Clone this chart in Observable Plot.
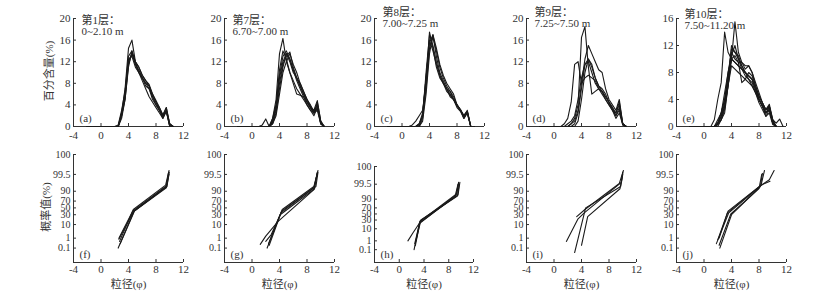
<!DOCTYPE html>
<html><head><meta charset="utf-8">
<script src="https://cdn.jsdelivr.net/npm/d3@7"></script>
<script src="https://cdn.jsdelivr.net/npm/@observablehq/plot@0.6"></script>
<style>
body{margin:0;background:#fff;}
#chart{position:relative;width:834px;height:295px;overflow:hidden;background:#fff;}
#chart svg{position:absolute;}
#chart svg, #chart svg text{font-family:'Liberation Serif','Noto Sans CJK SC',serif !important;}
.ytitle{position:absolute;width:100px;height:14px;line-height:14px;text-align:center;white-space:nowrap;
  font:11px 'Liberation Serif','Noto Sans CJK SC',serif;color:#333;transform:rotate(-90deg);transform-origin:50% 50%;}
</style></head><body><div id="chart"></div>
<script>
// ---------- data ----------
const phiGrid = [-2,1,1.5,2,2.5,3,3.5,4,4.5,5,5.5,6,6.5,7,7.5,8,8.5,9,9.5,10,10.5,11,11.5];
const xTicks = [-4,0,4,8,12];
const topTitles = ["第1层：\n0~2.10 m","第7层：\n6.70~7.00 m","第8层：\n7.00~7.25 m","第9层：\n7.25~7.50 m","第10层：\n7.50~11.20 m"];
const topLetters = ["(a)","(b)","(c)","(d)","(e)"];
const botLetters = ["(f)","(g)","(h)","(i)","(j)"];
const yTitles = ["百分含量(%)","概率值(%)"];
const xTitle = "粒径(φ)";
const topYMax = [20,20,20,20,16];

const seriesA = [
 [0,0,0,0,0,2.5,7,14.5,16,12,10,8.5,7,5.5,4.5,3.5,2.5,1.5,2.8,0,0],
 [0,0,0,0,0,2,5.5,12,13.5,11.5,10.5,9,8,7.5,5.5,4.5,3.5,2,3.5,0.3,0],
 [0,0,0,0,0,1.5,5,11,14,12,11,9.5,8.5,7.5,6,4.5,3,2,3,0.5,0],
 [0,0,0,0,0,2.5,6,12.5,13,11,10,9,8,7,5.5,4,3,1.5,3,0,0],
 [0,0,0,0,0,2,5,11.5,13.5,12,11,9.5,8.5,7.8,6,4.8,3.5,2.2,3.5,0.5,0],
 [0,0,0,0,0.3,3,6.5,13,14,11.5,10,9,7.5,7,5,4,3,1.8,2.8,0,0]
];
const seriesB = [
 [0,0,0,0,0,1.5,5,13.5,16.3,12,10,8.5,7,6,5,4,3,2.5,3.5,0.8,0],
 [0,0,0.3,1.4,0,1.5,4,9,12,13.5,12,10,9,7.5,6,4.5,3.5,2.5,4.5,1,0],
 [0,0,0,0,0,1,3,8,11.5,13,13.8,11,9,8,6.5,5,4,2.8,4,0.5,0],
 [0,0,0,0,0,0.5,2.5,7,11,13.5,12.5,10.5,8.5,7,5.5,4,3,2,3.5,0.5,0],
 [0,0,0,0,0,1,4,10.5,14,12.5,10,8,6,5.8,5.5,4.5,3.5,2.5,4,0.6,0],
 [0,0,0,0,0,0.8,3.5,9.5,13,14,12.5,10.5,9,7.5,6,5,3.5,3,4.8,1,0],
 [0,0,0,0,0,0.5,2,6,10,12,13.5,11.5,10,8,6.5,5,3.8,2.5,3,0.5,0]
];
const seriesC = [
 [0,0,0.3,1,2,3,8,17.5,14.5,11,9,8,7,6,5,4,3,2,2.8,0,0],
 [0,0,0,0,0.5,2,9,15.5,17,13,10,8.5,7,5.5,5,3.8,3,1.5,2.5,0,0],
 [0,0,0,0,0,1.5,7,14.5,16.5,14,11,9,7.5,6.5,5.5,4,3,2,2.8,0,0],
 [0,0,0,0,0.3,2,10,17,15,12,9.5,8,7,6.5,5,4,3,1.8,2.5,0,0],
 [0,0,0,0,0,1,6,13.5,17,14.5,11.5,9.5,8,7,6,4,3.2,2,3,0,0],
 [0,0,0,0,0.5,2.5,9,16,14,11.5,9.5,8,6.5,5.8,5,3.5,2.8,1.5,2.6,0,0]
];
const seriesD = [
 [0,0,0,0,0.5,1.5,4,16.5,18.5,11,6,6.5,7,6.5,5.5,4.5,3,2,3,0.5,0],
 [0,0,0.5,1.5,4.5,11.5,12,8,9,9.5,9,8.5,7,6.5,5,4,3,1.5,2.5,0.3,0],
 [0,0,0,0,0.5,1,3,8,12.5,15,13.5,12,10.5,10,7,5,4,3,5,0.5,0],
 [0,0,0,0,0,0.5,2.5,7,11.5,12.5,11,9,7.5,7,6,4.5,3.5,2,3.5,0.3,0],
 [0,0,0,0.5,1,2,5,9,11.5,12,10,8,7,6,5,4,3,2.5,4,0.5,0],
 [0,0,0,0,0,0,1,5,10,12.5,11.5,9,7.5,6.5,5.5,4.5,3.5,2.5,4.5,0.5,0]
];
const seriesE = [
 [0,0,1,4,6.5,14,11,10,9.5,9,8.5,8,7.5,7,5.5,4,3,2,3,0.5,0],
 [0,0,0,1,2,4,8,10,15.5,11,9.5,8.5,9,8,6,4.5,3.5,2.5,3.3,1,0],
 [0,0,0,0.5,2,4,7,11.5,11,10,9,8,7.5,7,5.5,4,3,1.5,2.5,0.5,0],
 [0,0,0,0.5,1.5,3,6,10,10.5,9.5,6.5,7,8,7.5,6,4.5,3.5,2.5,3,1,0.5,1.1,0],
 [0,0,0,0.3,1.5,3.5,7,10,9.5,9,8.5,8,7,6,5,4,3,2,2.8,0.5,0],
 [0,0,0,0.5,2,5,8,11,10,9.5,9.5,9,9,8,6.5,5,3.5,2,2.5,0.8,0],
 [0,0,0,0.3,1,2.5,6,9,8.5,8,7.5,7,6.5,6,5,4,3,2,2.5,0.5,0],
 [0,0,0,0.5,1,3,7,12,11,10.5,9,8,7.5,7,5.5,4.5,3.5,2.5,3,0.8,0],
 [0,0,0,0,1,2,6,10.5,12,10,8.5,7.5,7,6.5,5,3.5,2.5,1.5,2,0.3,0]
];
const topSeries = [seriesA, seriesB, seriesC, seriesD, seriesE];

// probability (cumulative) curves: [phi, cumulative %]
const probTicks = [0.1,1,10,30,50,70,90,99.5,100];
const probLabels = ["0.1","1","10","30","50","70","90","99.5","100"];
const linesF = [
 [[2.5,0.1],[4.8,40],[9.5,95],[9.9,99.7]],
 [[2.7,0.5],[4.7,45],[9.4,96],[9.9,99.8]],
 [[2.6,1],[4.6,40],[9.5,95.5],[9.8,99.6]],
 [[2.8,0.3],[4.9,42],[9.6,95],[9.9,99.7]],
 [[2.6,0.8],[4.7,38],[9.5,94],[9.9,99.5]]
];
const linesG = [
 [[1.2,0.25],[2.0,1.5],[3.8,15],[9.0,92],[9.5,99.6]],
 [[2.2,0.1],[4.2,35],[8.8,93],[9.3,95],[9.6,99.7]],
 [[2.4,0.3],[4.3,40],[9.0,94],[9.5,99.6]],
 [[2.0,0.5],[2.8,2],[4.1,30],[9.1,93],[9.5,99.7]],
 [[2.5,0.2],[4.4,45],[9.0,95],[9.6,99.8]]
];
const linesH = [
 [[1.4,1],[2.2,5],[3.2,20],[9.2,95],[9.6,99.7]],
 [[2.4,0.1],[3.3,25],[9.3,96],[9.6,99.6]],
 [[2.6,0.3],[3.4,28],[9.4,94],[9.7,99.5]],
 [[2.5,0.5],[3.3,22],[9.0,93],[9.5,99.5]],
 [[2.7,1],[3.5,30],[9.5,95],[9.8,99.7]]
];
const linesI = [
 [[1.8,0.5],[3.5,20],[4.4,35],[9.8,97.5],[10.0,99.7]],
 [[3.0,0.03],[4.6,50],[9.7,95],[10.0,99.5]],
 [[4.0,0.2],[4.9,25],[9.6,93],[10.0,99.6]],
 [[3.3,25],[4.5,45],[9.5,97],[10.1,99.8]]
];
const linesJ = [
 [[2.0,0.7],[3.5,40],[8.3,96],[8.8,99.8]],
 [[2.3,0.1],[4.0,30],[8.2,95],[8.5,99.6]],
 [[1.8,0.3],[3.6,35],[8.5,96.5],[9.5,98.5],[10.2,99.8]],
 [[2.2,0.2],[3.9,32],[8.0,93],[8.4,99.5]],
 [[2.2,1],[3.4,35],[8.3,96],[9.6,98]]
];
const botLines = [linesF, linesG, linesH, linesI, linesJ];

// ---------- layout ----------
const panelLeft = [73,224,374,525.5,675.5];
const botFrameW = [110,110,99,110,110];
const botFrameTop = [14,14,26,14,14];
const titleDy = [-3,-3,-11,-11,-9];

function probit(p){
  const a=[-3.969683028665376e+01,2.209460984245205e+02,-2.759285104469687e+02,1.383577518672690e+02,-3.066479806614716e+01,2.506628277459239e+00];
  const b=[-5.447609879822406e+01,1.615858368580409e+02,-1.556989798598866e+02,6.680131188771972e+01,-1.328068155288572e+01];
  const c=[-7.784894002430293e-03,-3.223964580411365e-01,-2.400758277161838e+00,-2.549732539343734e+00,4.374664141464968e+00,2.938163982698783e+00];
  const d=[7.784695709041462e-03,3.224671290700398e-01,2.445134137142996e+00,3.754408661907416e+00];
  const pl=0.02425; let q,r;
  if(p<pl){q=Math.sqrt(-2*Math.log(p));return (((((c[0]*q+c[1])*q+c[2])*q+c[3])*q+c[4])*q+c[5])/((((d[0]*q+d[1])*q+d[2])*q+d[3])*q+1);}
  if(p<=1-pl){q=p-0.5;r=q*q;return (((((a[0]*r+a[1])*r+a[2])*r+a[3])*r+a[4])*r+a[5])*q/(((((b[0]*r+b[1])*r+b[2])*r+b[3])*r+b[4])*r+1);}
  q=Math.sqrt(-2*Math.log(1-p));return -(((((c[0]*q+c[1])*q+c[2])*q+c[3])*q+c[4])*q+c[5])/((((d[0]*q+d[1])*q+d[2])*q+d[3])*q+1);
}
const zOf = p => probit(Math.min(p, 99.998)/100);
const zTicks = probTicks.map(zOf);
const zLabel = new Map(zTicks.map((z,i)=>[z, probLabels[i]]));
const zDomain = [-4.2, zOf(100)];

const FONT = "'Liberation Serif','Noto Sans CJK SC',serif";
const INK = "#333";
const chart = document.getElementById("chart");
const fmt = d => String(d);

function place(svg, left, top){
  svg.style.left = left + "px"; svg.style.top = top + "px";
  chart.appendChild(svg);
}

for (let i = 0; i < 5; i++) {
  // top: frequency curves
  const W = 110, H = 108, mL = 35, mR = 15, mT = 18, mB = 24;
  const ymax = topYMax[i];
  const yt = d3.range(0, ymax + 1, 4);
  const rows = topSeries[i].flatMap((vals, s) => vals.map((v, k) => ({phi: phiGrid[k], v, s})));
  const top = Plot.plot({
    width: mL + W + mR, height: mT + H + mB,
    marginLeft: mL, marginRight: mR, marginTop: mT, marginBottom: mB,
    x: {domain: [-4, 12]}, y: {domain: [0, ymax]},
    style: {background: "transparent", overflow: "visible", fontFamily: FONT, fontSize: "11px", color: INK},
    marks: [
      Plot.axisX(xTicks, {tickSize: 0, tickPadding: 5, tickFormat: fmt, label: null, fill: INK, fontSize: 11}),
      Plot.axisY(yt, {tickSize: 0, tickPadding: 3, tickFormat: fmt, label: null, fill: INK, fontSize: 11}),
      Plot.tickX(xTicks, {x: d => d, insetTop: H - 3, stroke: INK}),
      Plot.tickY(yt, {y: d => d, insetRight: W - 3, stroke: INK}),
      Plot.ruleX([-4], {stroke: INK}),
      Plot.ruleY([0], {stroke: INK}),
      Plot.line(rows, {x: "phi", y: "v", z: "s", stroke: "#1a1a1a", strokeWidth: 1.1}),
      Plot.text([topTitles[i]], {frameAnchor: "top-left", textAnchor: "start", lineAnchor: "top", dx: 8, dy: titleDy[i], lineHeight: 1.05, fill: INK, fontSize: 11}),
      Plot.text([topLetters[i]], {frameAnchor: "bottom-left", textAnchor: "start", lineAnchor: "middle", dx: 6, dy: -8, fill: INK, fontSize: 11})
    ]
  });
  place(top, panelLeft[i] - mL, 0);

  // bottom: probability curves
  const bW = botFrameW[i], bT = botFrameTop[i], bH = 262 - 140 - bT, bB = 28;
  const prow = botLines[i].flatMap((pts, s) => pts.map(([phi, p]) => ({phi, p, s})));
  const bot = Plot.plot({
    width: mL + bW + mR, height: bT + bH + bB,
    marginLeft: mL, marginRight: mR, marginTop: bT, marginBottom: bB,
    x: {domain: [-4, 12]}, y: {domain: zDomain},
    style: {background: "transparent", overflow: "visible", fontFamily: FONT, fontSize: "11px", color: INK},
    marks: [
      Plot.axisX(xTicks, {tickSize: 0, tickPadding: 3, tickFormat: fmt, label: null, fill: INK, fontSize: 11}),
      Plot.axisY(zTicks, {tickSize: 0, tickPadding: 3, tickFormat: z => zLabel.get(z), label: null, fill: INK, fontSize: 10}),
      Plot.tickX(xTicks, {x: d => d, insetTop: bH - 3, stroke: INK}),
      Plot.tickY(zTicks, {y: d => d, insetRight: bW - 3, stroke: INK}),
      Plot.ruleX([-4], {stroke: INK}),
      Plot.ruleY([zDomain[0]], {stroke: INK}),
      Plot.line(prow, {x: "phi", y: d => zOf(d.p), z: "s", stroke: "#1a1a1a", strokeWidth: 1.1}),
      Plot.text([botLetters[i]], {frameAnchor: "bottom-left", textAnchor: "start", lineAnchor: "middle", dx: 6, dy: -8, fill: INK, fontSize: 11}),
      Plot.text([xTitle], {frameAnchor: "bottom", lineAnchor: "middle", textAnchor: "middle", dy: 22, fill: INK, fontSize: 11})
    ]
  });
  place(bot, panelLeft[i] - mL, 140);
}

// rotated y-axis titles of the first column
const yTitleCenters = [[47, 71], [44, 207]];
yTitles.forEach((t, k) => {
  const div = document.createElement("div");
  div.className = "ytitle";
  div.textContent = t;
  div.style.left = (yTitleCenters[k][0] - 50) + "px";
  div.style.top = (yTitleCenters[k][1] - 7) + "px";
  chart.appendChild(div);
});
</script>
</body></html>
